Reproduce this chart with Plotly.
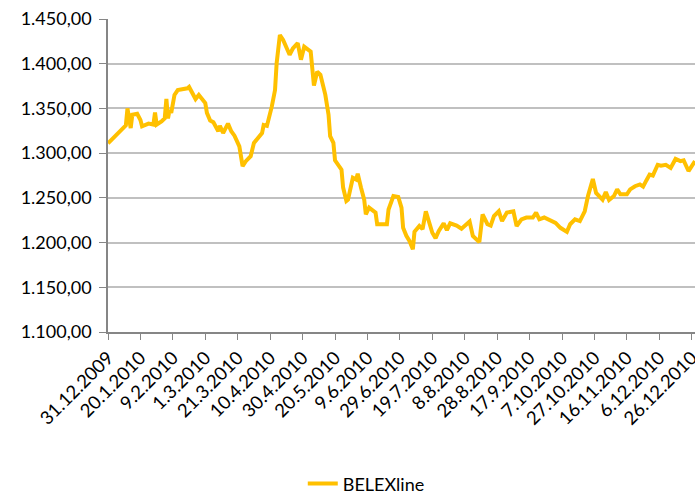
import plotly.graph_objects as go

# BELEXline, daily close
dates = [
    "2009-12-31", "2010-01-11", "2010-01-12", "2010-01-14", "2010-01-15", "2010-01-18",
    "2010-01-20", "2010-01-21", "2010-01-25", "2010-01-28", "2010-01-29", "2010-01-30",
    "2010-02-02", "2010-02-04", "2010-02-05", "2010-02-06", "2010-02-07", "2010-02-08",
    "2010-02-10", "2010-02-12", "2010-02-18", "2010-02-19", "2010-02-23", "2010-02-25",
    "2010-03-01", "2010-03-02", "2010-03-04", "2010-03-06", "2010-03-09", "2010-03-10",
    "2010-03-12", "2010-03-15", "2010-03-17", "2010-03-19", "2010-03-22", "2010-03-24",
    "2010-03-26", "2010-03-29", "2010-03-31", "2010-04-02", "2010-04-05", "2010-04-06",
    "2010-04-08", "2010-04-11", "2010-04-13", "2010-04-14", "2010-04-16", "2010-04-18",
    "2010-04-20", "2010-04-22", "2010-04-24", "2010-04-27", "2010-04-29", "2010-05-01",
    "2010-05-05", "2010-05-06", "2010-05-07", "2010-05-09", "2010-05-11", "2010-05-14",
    "2010-05-16", "2010-05-17", "2010-05-19", "2010-05-20", "2010-05-24", "2010-05-25",
    "2010-05-27", "2010-05-28", "2010-05-31", "2010-06-02", "2010-06-03", "2010-06-05",
    "2010-06-07", "2010-06-08", "2010-06-10", "2010-06-14", "2010-06-15", "2010-06-21",
    "2010-06-22", "2010-06-25", "2010-06-28", "2010-06-30", "2010-07-01", "2010-07-03",
    "2010-07-05", "2010-07-07", "2010-07-08", "2010-07-11", "2010-07-13", "2010-07-15",
    "2010-07-17", "2010-07-19", "2010-07-21", "2010-07-23", "2010-07-26", "2010-07-28",
    "2010-07-30", "2010-08-03", "2010-08-06", "2010-08-08", "2010-08-11", "2010-08-13",
    "2010-08-17", "2010-08-19", "2010-08-22", "2010-08-24", "2010-08-26", "2010-08-29",
    "2010-08-31", "2010-09-03", "2010-09-07", "2010-09-09", "2010-09-12", "2010-09-15",
    "2010-09-19", "2010-09-21", "2010-09-23", "2010-09-26", "2010-09-29", "2010-10-03",
    "2010-10-06", "2010-10-09", "2010-10-10", "2010-10-12", "2010-10-15", "2010-10-18",
    "2010-10-21", "2010-10-23", "2010-10-26", "2010-10-28", "2010-10-30", "2010-11-01",
    "2010-11-03", "2010-11-05", "2010-11-08", "2010-11-10", "2010-11-12", "2010-11-16",
    "2010-11-18", "2010-11-21", "2010-11-24", "2010-11-26", "2010-11-28", "2010-11-30",
    "2010-12-02", "2010-12-05", "2010-12-07", "2010-12-10", "2010-12-13", "2010-12-16",
    "2010-12-19", "2010-12-21", "2010-12-24", "2010-12-26", "2010-12-28",
]
belexline = [
    1311.0, 1331.0, 1350.0, 1328.0, 1343.0, 1344.0,
    1337.0, 1330.0, 1333.0, 1332.0, 1345.5, 1332.0,
    1335.5, 1339.0, 1360.5, 1339.0, 1348.5, 1345.0,
    1365.0, 1370.5, 1372.5, 1374.0, 1360.5, 1365.0,
    1356.0, 1345.0, 1336.5, 1334.5, 1324.5, 1330.5,
    1322.5, 1333.0, 1324.5, 1319.5, 1307.5, 1285.5,
    1291.0, 1296.5, 1311.5, 1316.0, 1322.5, 1331.5,
    1330.5, 1352.0, 1370.5, 1400.5, 1432.0, 1426.5,
    1417.0, 1410.0, 1417.0, 1423.0, 1404.5, 1419.0,
    1413.5, 1398.5, 1375.5, 1391.0, 1387.5, 1365.5,
    1343.0, 1319.0, 1311.5, 1292.0, 1281.5, 1261.5,
    1246.5, 1248.0, 1272.5, 1270.5, 1277.0, 1261.5,
    1248.0, 1231.5, 1239.0, 1233.5, 1220.5, 1220.5,
    1237.0, 1252.0, 1251.0, 1239.0, 1216.5, 1207.5,
    1201.5, 1192.5, 1212.0, 1218.5, 1215.0, 1235.0,
    1222.0, 1211.0, 1205.0, 1213.0, 1221.5, 1214.0,
    1221.5, 1219.0, 1215.5, 1219.0, 1223.5, 1207.5,
    1200.5, 1231.5, 1220.5, 1219.0, 1229.5, 1235.0,
    1224.0, 1233.5, 1235.0, 1218.5, 1226.0, 1228.0,
    1228.0, 1233.5, 1226.0, 1228.0, 1225.0, 1222.0,
    1216.5, 1213.0, 1212.0, 1220.5, 1226.0, 1224.0,
    1235.0, 1252.0, 1271.0, 1255.5, 1252.0, 1248.0,
    1256.5, 1247.5, 1252.0, 1259.5, 1254.0, 1254.0,
    1259.5, 1263.0, 1265.0, 1262.5, 1269.5, 1276.0,
    1275.0, 1287.0, 1286.0, 1287.0, 1283.5, 1293.5,
    1291.0, 1292.0, 1280.0, 1285.5, 1291.0,
]

font = "Lato, Calibri, Carlito, sans-serif"

fig = go.Figure()

fig.add_trace(go.Scatter(
    x=dates,
    y=belexline,
    mode="lines",
    name="BELEXline",
    line=dict(color="#FFC000", width=4),
))

fig.update_layout(
    width=695,
    height=495,
    paper_bgcolor="white",
    plot_bgcolor="white",
    separators=",.",
    margin=dict(l=108, r=0, t=19, b=163, autoexpand=False),
    font=dict(family=font, size=18, color="#000000"),
    showlegend=True,
    legend=dict(
        orientation="h",
        x=0.44, xanchor="center",
        y=-0.485, yanchor="middle",
        font=dict(size=18),
    ),
    xaxis=dict(
        type="date",
        range=["2009-12-31", "2010-12-28"],
        tick0="2009-12-31",
        dtick=20 * 86400000,
        tickformat="%-d.%-m.%Y",
        tickangle=-45,
        ticks="outside",
        ticklen=6,
        tickcolor="#868686",
        showline=True,
        linecolor="#868686",
        linewidth=1.5,
        showgrid=False,
        zeroline=False,
        automargin=False,
        ticklabeloverflow="allow",
        tickfont=dict(size=18.5),
    ),
    yaxis=dict(
        range=[1100, 1450],
        dtick=50,
        tickformat=",.2f",
        ticks="outside",
        ticklen=7,
        tickcolor="#868686",
        showline=True,
        linecolor="#868686",
        linewidth=1.5,
        showgrid=True,
        gridcolor="#C0C0C0",
        gridwidth=1.5,
        zeroline=False,
        automargin=False,
        ticklabelstandoff=4,
        tickfont=dict(size=18),
    ),
)

# drop the default page margin so the 695x495 figure fills the window
fig.write_html(
    "out.html",
    config={"displayModeBar": False},
    post_script="document.body.style.margin='0';",
)
